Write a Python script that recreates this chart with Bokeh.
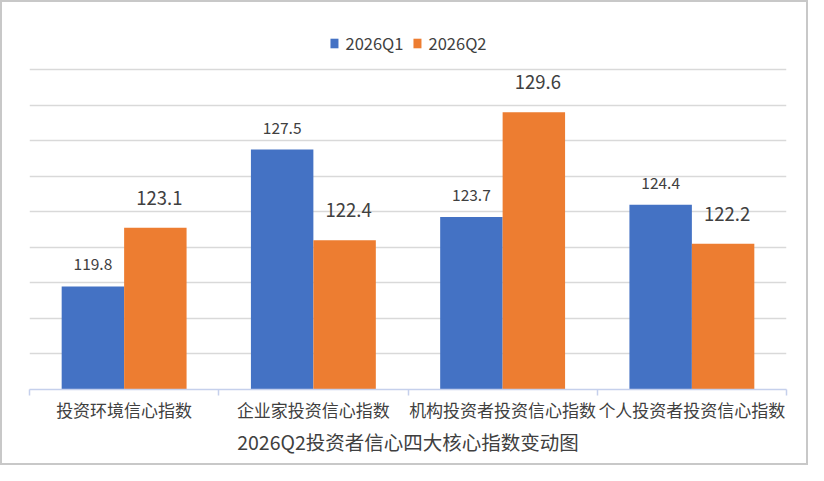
from bokeh.plotting import figure
from bokeh.models import Range1d, FixedTicker, Legend, LegendItem, ColumnDataSource
from bokeh.core.properties import value
from bokeh.embed import file_html
from bokeh.resources import INLINE

categories = ["投资环境信心指数", "企业家投资信心指数", "机构投资者投资信心指数", "个人投资者投资信心指数"]
q1 = [119.8, 127.5, 123.7, 124.4]
q2 = [123.1, 122.4, 129.6, 122.2]
series_names = ["2026Q1", "2026Q2"]
title_text = "2026Q2投资者信心四大核心指数变动图"

FONT = "Noto Sans CJK SC"
BLUE = "#4472C4"
ORANGE = "#ED7D31"
YMIN, YMAX = 114, 132
Y_TOP = 134.93  # frame extends above top gridline to hold legend

n = len(categories)
bw = 0.33
x1 = [i + 0.5 - bw / 2 for i in range(n)]
x2 = [i + 0.5 + bw / 2 for i in range(n)]

p = figure(width=808, height=465, output_backend="svg", toolbar_location=None,
           title=title_text, title_location="below",
           x_range=Range1d(0, n), y_range=Range1d(YMIN, Y_TOP),
           min_border_left=27, min_border_right=24, min_border_top=15, min_border_bottom=78)
p.styles = {"border": "2px solid #c8c8c8", "box-sizing": "border-box"}
p.outline_line_color = None
p.background_fill_color = "white"
p.border_fill_color = "white"

p.title.align = "center"
p.title.text_font = FONT
p.title.text_font_size = "19.5px"
p.title.text_font_style = "normal"
p.title.text_color = "#404040"
p.title.text_line_height = 0.8
p.title.standoff = 0

s1 = ColumnDataSource(dict(x=x1, top=q1, lab=[f"{v:.1f}" for v in q1]))
s2 = ColumnDataSource(dict(x=x2, top=q2, lab=[f"{v:.1f}" for v in q2]))

r1 = p.vbar(x="x", top="top", bottom=YMIN, width=bw, source=s1, fill_color=BLUE, line_color=None)
r2 = p.vbar(x="x", top="top", bottom=YMIN, width=bw, source=s2, fill_color=ORANGE, line_color=None)

p.text(x="x", y="top", text="lab", source=s1, text_font=value(FONT), text_font_size="15.5px",
       text_color="#404040", text_align="center", text_baseline="middle", y_offset=-22)
p.text(x="x", y="top", text="lab", source=s2, text_font=value(FONT), text_font_size="18.5px",
       text_color="#404040", text_align="center", text_baseline="middle", y_offset=-30, x_offset=4)

# axes
p.yaxis.visible = False
p.ygrid.ticker = FixedTicker(ticks=list(range(YMIN, YMAX + 1, 2)))
p.ygrid.grid_line_color = "#d9d9d9"
p.ygrid.grid_line_width = 1.3
p.xgrid.visible = False

xa = p.xaxis[0]
xa.ticker = FixedTicker(ticks=[i + 0.5 for i in range(n)], minor_ticks=list(range(n + 1)))
xa.major_label_overrides = {i + 0.5: c for i, c in enumerate(categories)}
xa.major_tick_line_color = None
xa.major_tick_out = 0
xa.major_tick_in = 0
xa.minor_tick_in = 0
xa.minor_tick_out = 6
xa.minor_tick_line_color = "#c5d0ec"
xa.minor_tick_line_width = 1.5
xa.axis_line_color = "#c5d0ec"
xa.axis_line_width = 1.5
xa.major_label_text_font = FONT
xa.major_label_text_font_size = "17px"
xa.major_label_text_color = "#404040"
xa.major_label_text_line_height = 0.8
xa.major_label_standoff = 1

legend = Legend(items=[LegendItem(label=series_names[0], renderers=[r1]),
                       LegendItem(label=series_names[1], renderers=[r2])],
                orientation="horizontal", location="top_center",
                label_text_font=FONT, label_text_font_size="16.5px", label_text_color="#404040",
                glyph_width=10, glyph_height=12, label_standoff=7, spacing=8,
                border_line_color=None, background_fill_alpha=0, padding=0, margin=14)
p.add_layout(legend, "center")

open("out.html", "w").write(file_html(p, INLINE))
